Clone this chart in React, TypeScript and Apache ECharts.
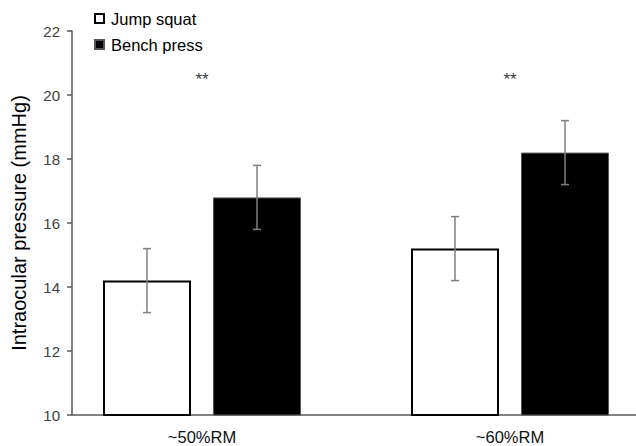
import React, { useEffect, useRef } from "react";
import * as echarts from "echarts";

const categories = ["~50%RM", "~60%RM"];
const jumpSquat = [14.2, 15.2];
const jumpSquatErr = [1.0, 1.0];
const benchPress = [16.8, 18.2];
const benchPressErr = [1.0, 1.0];
const starLevel = [20.5, 20.5];
const starText = ["**", "**"];
const yTicks = { min: 10, max: 22, interval: 2 };

const FONT = "Liberation Sans, Arial, sans-serif";
const BAR_W = 88;
const BAR_GAP = 22;

export default function App() {
  const ref = useRef<HTMLDivElement>(null);
  useEffect(() => {
    if (!ref.current) return;
    const chart = echarts.init(ref.current, null, { renderer: "svg" });
    const offset = (BAR_W + BAR_GAP) / 2;
    const errSeries = (vals: number[], errs: number[], dir: number, name: string) => ({
      type: "custom",
      name,
      xAxisIndex: 1,
      yAxisIndex: 1,
      silent: true,
      z: 10,
      data: vals.map((v, i) => [i, v - errs[i], v + errs[i]]),
      renderItem: (params: any, api: any) => {
        const lo = api.coord([api.value(0), api.value(1)]);
        const hi = api.coord([api.value(0), api.value(2)]);
        const x = lo[0] + dir * offset;
        const cap = 4;
        const style = { stroke: "#7f7f7f", lineWidth: 1.5 };
        return {
          type: "group",
          children: [
            { type: "line", shape: { x1: x, y1: lo[1], x2: x, y2: hi[1] }, style },
            { type: "line", shape: { x1: x - cap, y1: lo[1], x2: x + cap, y2: lo[1] }, style },
            { type: "line", shape: { x1: x - cap, y1: hi[1], x2: x + cap, y2: hi[1] }, style },
          ],
        };
      },
    });
    chart.setOption({
      animation: false,
      textStyle: { fontFamily: FONT },
      legend: {
        orient: "vertical",
        left: 89,
        top: 5,
        itemWidth: 9,
        itemHeight: 9,
        itemGap: 9,
        icon: "rect",
        data: ["Jump squat", "Bench press"],
        textStyle: { fontSize: 16.5, color: "#000", fontFamily: FONT, padding: [0, 0, 0, 2] },
      },
      grid: [
        { left: 72, right: 28, top: 31, height: 384 },
        { left: 48, right: 0, top: 31, height: 384 },
      ],
      xAxis: [
        {
          gridIndex: 0,
          type: "category",
          data: categories,
          axisLine: { lineStyle: { color: "#595959", width: 1.5 } },
          axisTick: { show: false },
          axisLabel: { show: false },
        },
        {
          gridIndex: 1,
          type: "category",
          data: categories,
          axisLine: { show: false },
          axisTick: { show: false },
          axisLabel: { fontSize: 16.5, color: "#111", margin: 13, fontFamily: FONT },
        },
      ],
      yAxis: [
        {
          gridIndex: 0,
          type: "value",
          min: yTicks.min,
          max: yTicks.max,
          interval: yTicks.interval,
          name: "Intraocular pressure (mmHg)",
          nameLocation: "middle",
          nameGap: 43,
          nameTextStyle: { fontSize: 20, color: "#000", fontFamily: FONT },
          axisLine: { show: true, lineStyle: { color: "#595959", width: 1.5 } },
          axisTick: { show: true, length: 5, lineStyle: { color: "#595959", width: 1.5 } },
          axisLabel: { fontSize: 15, color: "#404040", margin: 12, fontFamily: FONT },
          splitLine: { show: false },
        },
        {
          gridIndex: 1,
          type: "value",
          min: yTicks.min,
          max: yTicks.max,
          interval: yTicks.interval,
          show: false,
          splitLine: { show: false },
        },
      ],
      series: [
        {
          name: "Jump squat",
          type: "bar",
          xAxisIndex: 1,
          yAxisIndex: 1,
          data: jumpSquat,
          barWidth: BAR_W,
          barGap: `${(BAR_GAP / BAR_W) * 100}%`,
          itemStyle: { color: "#fff", borderColor: "#000", borderWidth: 2 },
        },
        {
          name: "Bench press",
          type: "bar",
          xAxisIndex: 1,
          yAxisIndex: 1,
          data: benchPress,
          barWidth: BAR_W,
          itemStyle: { color: "#000", borderColor: "#555", borderWidth: 1 },
        },
        errSeries(jumpSquat, jumpSquatErr, -1, "errJ"),
        errSeries(benchPress, benchPressErr, 1, "errB"),
        {
          type: "scatter",
          xAxisIndex: 1,
          yAxisIndex: 1,
          symbolSize: 0,
          silent: true,
          data: starLevel.map((v, i) => ({ value: v, label: { formatter: starText[i] } })),
          label: { show: true, position: "inside", fontSize: 17, color: "#000", fontFamily: FONT },
        },
      ],
    });
    return () => chart.dispose();
  }, []);
  return (
    <div style={{ position: "fixed", left: 0, top: 0, width: 636, height: 446, overflow: "hidden", background: "#fff" }}>
      <div ref={ref} style={{ width: 664, height: 446 }} />
    </div>
  );
}
